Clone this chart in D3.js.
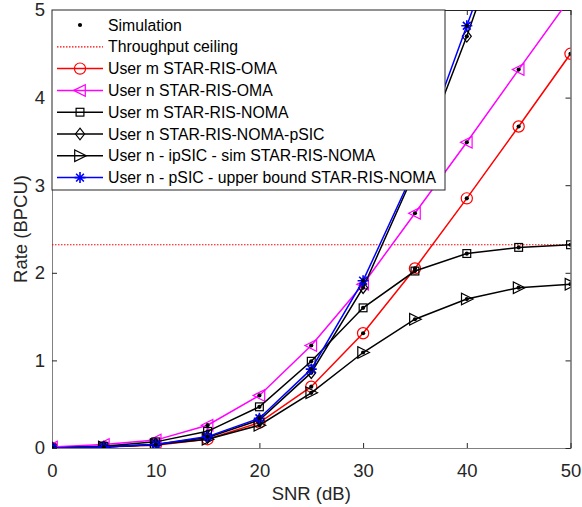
<!DOCTYPE html>
<html><head><meta charset="utf-8">
<script src="https://cdn.jsdelivr.net/npm/d3@7"></script>
<style>body{margin:0;background:#fff}svg{display:block}text{font-family:"Liberation Sans",Arial,sans-serif}</style>
</head><body>
<script>
const snr = [0,5,10,15,20,25,30,35,40,45,50];
const userM_OMA = [0,0.01,0.03,0.10,0.29,0.70,1.31,2.05,2.85,3.67,4.50];
const userN_OMA = [0.01,0.04,0.09,0.26,0.60,1.17,1.87,2.68,3.49,4.32,5.14];
const userM_NOMA = [0,0.02,0.07,0.19,0.47,0.99,1.60,2.02,2.22,2.29,2.32];
const userN_NOMA_pSIC = [0,0.01,0.04,0.12,0.32,0.86,1.83,3.16,4.70,6.40,8.10];
const userN_ipSIC = [0,0.01,0.04,0.10,0.26,0.63,1.09,1.47,1.70,1.83,1.87];
const userN_pSIC_ub = [0,0.01,0.04,0.13,0.34,0.90,1.91,3.19,4.82,6.45,8.10];
const ceiling = 2.32;
const xTicks = [0,10,20,30,40,50];
const yTicks = [0,1,2,3,4,5];
const legendLabels = ["Simulation","Throughput ceiling","User m STAR-RIS-OMA","User n STAR-RIS-OMA","User m STAR-RIS-NOMA","User n STAR-RIS-NOMA-pSIC","User n - ipSIC - sim STAR-RIS-NOMA","User n - pSIC - upper bound STAR-RIS-NOMA"];

const W=582,H=507, L=52,R=570.5,T=10,B=448;
const svg=d3.select("body").append("svg").attr("width",W).attr("height",H);
const x=d3.scaleLinear().domain([0,50]).range([L,R]);
const y=d3.scaleLinear().domain([0,5]).range([B,T]);

svg.append("defs").append("clipPath").attr("id","clip").append("rect").attr("x",L).attr("y",T).attr("width",R-L).attr("height",B-T);

const axCol="#262626";
const fmt=d3.format("d");
const gx=svg.append("g").attr("transform",`translate(0,${B})`).call(d3.axisBottom(x).tickValues(xTicks).tickSizeInner(-5).tickSizeOuter(0).tickPadding(15.5).tickFormat(fmt));
const gy=svg.append("g").attr("transform",`translate(${L},0)`).call(d3.axisLeft(y).tickValues(yTicks).tickSizeInner(-5).tickSizeOuter(0).tickPadding(7).tickFormat(fmt));
const gx2=svg.append("g").attr("transform",`translate(0,${T})`).call(d3.axisTop(x).tickValues(xTicks).tickSizeInner(-5).tickSizeOuter(0).tickFormat(""));
const gy2=svg.append("g").attr("transform",`translate(${R},0)`).call(d3.axisRight(y).tickValues(yTicks).tickSizeInner(-5).tickSizeOuter(0).tickFormat(""));
[gx,gy,gx2,gy2].forEach(g=>{g.selectAll("path,line").attr("stroke",axCol);g.selectAll("text").attr("fill","#262626").style("font-size","18.5px").style("font-family","'Liberation Sans',Arial,sans-serif");});
gx.select(".domain").attr("stroke","#808080");gy.select(".domain").attr("stroke","#808080");

svg.append("text").attr("x",(L+R)/2).attr("y",500).attr("text-anchor","middle").attr("fill","#262626").style("font-size","18.5px").text("SNR (dB)");
svg.append("text").attr("transform",`translate(27,${(T+B)/2}) rotate(-90)`).attr("text-anchor","middle").attr("fill","#262626").style("font-size","18.5px").text("Rate (BPCU)");

const plot=svg.append("g").attr("clip-path","url(#clip)");
plot.append("line").attr("x1",L).attr("x2",R).attr("y1",y(ceiling)).attr("y2",y(ceiling)).attr("stroke","#ff0000").attr("stroke-width",1.2).attr("stroke-dasharray","1.5,1.5");

const series=[
 {v:userM_OMA,c:"#ff0000",m:"circle"},
 {v:userN_OMA,c:"#ff00ff",m:"triLeft"},
 {v:userM_NOMA,c:"#000",m:"square"},
 {v:userN_NOMA_pSIC,c:"#000",m:"diamond"},
 {v:userN_ipSIC,c:"#000",m:"triRight"},
 {v:userN_pSIC_ub,c:"#0000ff",m:"star"}
];
function marker(g,type,cx,cy,c){
  const s=g.append("g").attr("transform",`translate(${cx},${cy})`);
  const st={fill:"none",stroke:c,"stroke-width":1.2};
  let el;
  if(type==="circle") el=s.append("circle").attr("r",5.6);
  else if(type==="square") el=s.append("rect").attr("x",-3.9).attr("y",-3.9).attr("width",7.8).attr("height",7.8);
  else if(type==="diamond") el=s.append("path").attr("d","M0,-5.8L4.5,0L0,5.8L-4.5,0Z");
  else if(type==="triLeft") el=s.append("path").attr("d","M-6.3,0L5.3,-5.8L5.3,5.8Z");
  else if(type==="triRight") el=s.append("path").attr("d","M6.3,0L-5.3,-5.8L-5.3,5.8Z");
  else if(type==="star"){ el=s.append("path").attr("d","M0,-5.5L0,5.5M-5.5,0L5.5,0M-3.9,-3.9L3.9,3.9M-3.9,3.9L3.9,-3.9"); st["stroke-width"]=1.6;}
  Object.entries(st).forEach(([k,v])=>el.attr(k,v));
  return s;
}
const line=d3.line().x((d,i)=>x(snr[i])).y(d=>y(d));
series.forEach(s=>{
  plot.append("path").datum(s.v).attr("d",line).attr("fill","none").attr("stroke",s.c).attr("stroke-width",1.5);
  s.v.forEach((v,i)=>{ marker(plot,s.m,x(snr[i]),y(v),s.c); });
  s.v.forEach((v,i)=>{ plot.append("circle").attr("cx",x(snr[i])).attr("cy",y(v)).attr("r",2.1).attr("fill","#000"); });
});

const lg=svg.append("g");
lg.append("rect").attr("x",L).attr("y",T).attr("width",445-L).attr("height",190-T).attr("fill","#fff").attr("stroke","#262626").attr("stroke-width",1);
const lx1=57,lx2=103,lmx=80,ly0=25,ldy=21.8;
legendLabels.forEach((t,i)=>{
  const yy=ly0+i*ldy;
  if(i===0){ lg.append("circle").attr("cx",lmx).attr("cy",yy).attr("r",2.1).attr("fill","#000"); }
  else if(i===1){ lg.append("line").attr("x1",lx1).attr("x2",lx2).attr("y1",yy).attr("y2",yy).attr("stroke","#ff0000").attr("stroke-width",1.2).attr("stroke-dasharray","1.5,1.5"); }
  else { const s=series[i-2]; lg.append("line").attr("x1",lx1).attr("x2",lx2).attr("y1",yy).attr("y2",yy).attr("stroke",s.c).attr("stroke-width",1.5); marker(lg,s.m,lmx,yy,s.c); }
  lg.append("text").attr("x",108).attr("y",yy).attr("dy","0.36em").attr("fill","#000").style("font-size","15.8px").text(t);
});
</script>
</body></html>
